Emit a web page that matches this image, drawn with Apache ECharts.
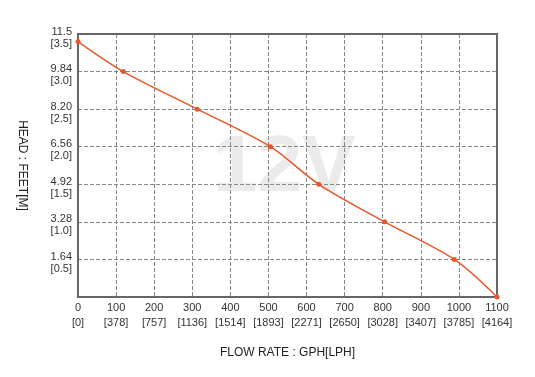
<!DOCTYPE html>
<html>
<head>
<meta charset="utf-8">
<script src="https://cdn.jsdelivr.net/npm/echarts@6/dist/echarts.min.js"></script>
<style>
  html, body { margin: 0; padding: 0; background: #fff; }
  #pump { width: 535px; height: 377px; }
</style>
</head>
<body>
<div id="pump"></div>
<script>
// pump curve 12V -------------------------------------
var flowGph = [0, 119, 313, 505, 632, 805, 988, 1100];
var headM = [3.4, 3.0, 2.5, 2.0, 1.5, 1.0, 0.5, 0];

var xTicks = ['0', '100', '200', '300', '400', '500', '600', '700', '800', '900', '1000', '1100'];
var xTicksLph = ['[0]', '[378]', '[757]', '[1136]', '[1514]', '[1893]', '[2271]', '[2650]', '[3028]', '[3407]', '[3785]', '[4164]'];
var yTicksFt = ['', '1.64', '3.28', '4.92', '6.56', '8.20', '9.84', '11.5'];
var yTicksM = ['', '[0.5]', '[1.0]', '[1.5]', '[2.0]', '[2.5]', '[3.0]', '[3.5]'];

function chart() {
    var myChart = echarts.init(document.getElementById('pump'));

    var data = [];
    for (var i = 0; i < flowGph.length; i++) {
        data.push([flowGph[i], headM[i]]);
    }

    var option = {
        animation: false,
        textStyle: { fontFamily: 'Liberation Sans, Arial, sans-serif' },
        graphic: [
            {
                type: 'text',
                left: 213,
                top: 129,
                z: 0,
                style: {
                    text: '12V',
                    fill: '#ebebeb',
                    font: 'bold 80px "Liberation Sans", Arial, sans-serif'
                }
            }
        ],
        grid: {
            left: 78,
            right: 38,
            top: 34,
            bottom: 80,
            show: true,
            borderColor: '#666',
            borderWidth: 2,
            z: 3
        },
        xAxis: {
            type: 'value',
            min: 0,
            max: 1100,
            interval: 100,
            name: 'FLOW RATE : GPH[LPH]',
            nameLocation: 'middle',
            nameGap: 50,
            nameTextStyle: { color: '#222', fontSize: 12 },
            axisLine: { show: true, lineStyle: { color: '#666', width: 2 } },
            axisTick: { show: false },
            axisLabel: {
                color: '#333',
                fontSize: 11,
                lineHeight: 15,
                margin: 3,
                formatter: function (v) {
                    var k = Math.round(v / 100);
                    return xTicks[k] + '\n' + xTicksLph[k];
                }
            },
            splitLine: { show: true, lineStyle: { color: '#888', type: 'dashed', width: 1 } }
        },
        yAxis: {
            type: 'value',
            min: 0,
            max: 3.5,
            interval: 0.5,
            name: 'HEAD : FEET[M]',
            nameLocation: 'middle',
            nameRotate: -90,
            nameGap: 50,
            nameTextStyle: { color: '#222', fontSize: 12 },
            axisLine: { show: true, lineStyle: { color: '#666', width: 2 } },
            axisTick: { show: false },
            axisLabel: {
                color: '#333',
                fontSize: 11,
                lineHeight: 12,
                margin: 6,
                showMaxLabel: true,
                rich: {
                    s: { lineHeight: 7, fontSize: 1 }
                },
                formatter: function (v) {
                    var k = Math.round(v * 2);
                    if (!yTicksFt[k]) return '';
                    return '{s|}\n' + yTicksFt[k] + '\n' + yTicksM[k];
                }
            },
            splitLine: { show: true, lineStyle: { color: '#888', type: 'dashed', width: 1 } }
        },
        series: [
            {
                name: '12V',
                type: 'line',
                smooth: 0.3,
                symbol: 'circle',
                symbolSize: 5,
                z: 5,
                itemStyle: { color: '#e8572b' },
                lineStyle: { color: '#e8572b', width: 1.5 },
                data: data
            }
        ]
    };
    myChart.setOption(option);

    window.addEventListener('resize', function () {
        myChart.resize();
    });
}
chart();
</script>
</body>
</html>
